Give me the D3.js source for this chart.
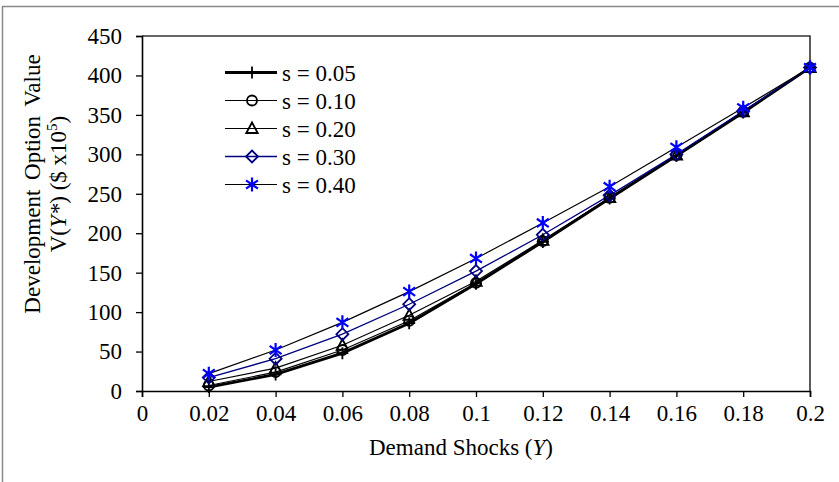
<!DOCTYPE html>
<html>
<head>
<meta charset="utf-8">
<script src="https://d3js.org/d3.v7.min.js"></script>
<style>
  body { margin: 0; background: #fff; }
  svg text { font-family: "Liberation Serif", "Times New Roman", serif; fill: #000; }
</style>
</head>
<body>
<script>
// demand shocks on the x axis
var xValues = [0.02, 0.04, 0.06, 0.08, 0.1, 0.12, 0.14, 0.16, 0.18, 0.2];
var xTicks = [0, 0.02, 0.04, 0.06, 0.08, 0.1, 0.12, 0.14, 0.16, 0.18, 0.2];
var xTickLabels = ["0", "0.02", "0.04", "0.06", "0.08", "0.1", "0.12", "0.14", "0.16", "0.18", "0.2"];
var yTicks = [0, 50, 100, 150, 200, 250, 300, 350, 400, 450];

// option value for each volatility s
var seriesNames = ["s = 0.05", "s = 0.10", "s = 0.20", "s = 0.30", "s = 0.40"];
var s05 = [5, 21, 48, 86, 136, 189, 244, 298, 353, 410];
var s10 = [7, 24, 52, 89, 137, 190, 245, 299, 354, 410];
var s20 = [12, 29, 58, 96, 139, 191, 245, 299, 354, 410];
var s30 = [17, 41, 72, 110, 152, 198, 248, 300, 355, 410];
var s40 = [22, 52, 87, 126, 168, 213, 259, 309, 359, 410];

var W = 839, H = 482;
var plotL = 142, plotR = 810, plotT = 36, plotB = 391;
var fs = "23px";

var svg = d3.select("body").append("svg").attr("width", W).attr("height", H);

// outer frame
svg.append("rect").attr("x", 2.5).attr("y", 6.5).attr("width", 900).attr("height", 600)
  .attr("fill", "none").attr("stroke", "#888").attr("stroke-width", 1.5);

var x = d3.scaleLinear().domain([0, 0.2]).range([plotL, plotR]);
var y = d3.scaleLinear().domain([0, 450]).range([plotB, plotT]);

// plot box top and right
svg.append("path")
  .attr("d", "M" + plotL + "," + plotT + "H" + plotR + "V" + plotB)
  .attr("fill", "none").attr("stroke", "#333").attr("stroke-width", 1.6);

var yAxis = svg.append("g").attr("transform", "translate(" + plotL + ",0)")
  .call(d3.axisLeft(y).tickValues(yTicks).tickSize(6).tickPadding(14));
var xAxis = svg.append("g").attr("transform", "translate(0," + plotB + ")")
  .call(d3.axisBottom(x).tickValues(xTicks).tickSize(6).tickPadding(8)
    .tickFormat(function(d, i) { return xTickLabels[i]; }));

[yAxis, xAxis].forEach(function(a) {
  a.select(".domain").attr("stroke", "#000").attr("stroke-width", 1.6);
  a.selectAll(".tick line").attr("stroke", "#000").attr("stroke-width", 1.3);
  a.selectAll("text").style("font-size", fs);
});

// axis titles
svg.append("text").attr("x", 461).attr("y", 455).attr("text-anchor", "middle")
  .style("font-size", fs)
  .html('Demand Shocks (<tspan font-style="italic">Y</tspan>)');

var yt = svg.append("g").attr("transform", "translate(40,184) rotate(-90)");
yt.append("text").attr("x", 0).attr("y", 0).attr("text-anchor", "middle")
  .style("font-size", fs).style("word-spacing", "4px")
  .text("Development Option Value");
yt.append("text").attr("x", 0).attr("y", 26).attr("text-anchor", "middle")
  .style("font-size", fs)
  .html('V(<tspan font-style="italic">Y*</tspan>) ($ x10<tspan dy="-9" font-size="15px">5</tspan><tspan dy="9">)</tspan>');

// marker drawers
function plus(g, s) { g.append("path").attr("d", "M" + (-s) + ",0H" + s + "M0," + (-s) + "V" + s); }
function circle(g, s) { g.append("circle").attr("r", s); }
function triangle(g, s) { g.append("path").attr("d", "M0," + (-s) + "L" + (s * 0.95) + "," + (s * 0.75) + "H" + (-s * 0.95) + "Z"); }
function diamond(g, s) { g.append("path").attr("d", "M0," + (-s) + "L" + s + ",0L0," + s + "L" + (-s) + ",0Z"); }
function star(g, s) {
  g.append("path").attr("d", "M0," + (-s) + "V" + s + "M" + (-s * 0.85) + "," + (-s * 0.6) + "L" + (s * 0.85) + "," + (s * 0.6) +
    "M" + (-s * 0.85) + "," + (s * 0.6) + "L" + (s * 0.85) + "," + (-s * 0.6));
}

var series = [
  { name: seriesNames[0], values: s05, line: "#000", lw: 2.8, mark: plus, ms: 6, mc: "#000", mw: 1.8 },
  { name: seriesNames[1], values: s10, line: "#000", lw: 1.2, mark: circle, ms: 5, mc: "#000", mw: 1.8 },
  { name: seriesNames[2], values: s20, line: "#000", lw: 1.2, mark: triangle, ms: 6, mc: "#000", mw: 1.8 },
  { name: seriesNames[3], values: s30, line: "#000080", lw: 1.3, mark: diamond, ms: 6, mc: "#000080", mw: 1.8 },
  { name: seriesNames[4], values: s40, line: "#000", lw: 1.2, mark: star, ms: 7, mc: "#0000ff", mw: 2.2 }
];

var line = d3.line().x(function(d, i) { return x(xValues[i]); }).y(function(d) { return y(d); });

series.forEach(function(s) {
  svg.append("path").datum(s.values).attr("d", line)
    .attr("fill", "none").attr("stroke", s.line).attr("stroke-width", s.lw);
});
series.forEach(function(s) {
  s.values.forEach(function(v, i) {
    var g = svg.append("g").attr("transform", "translate(" + x(xValues[i]) + "," + y(v) + ")")
      .attr("fill", "none").attr("stroke", s.mc).attr("stroke-width", s.mw);
    s.mark(g, s.ms);
  });
});

// legend
var lg = svg.append("g").attr("transform", "translate(225,72.5)");
series.forEach(function(s, i) {
  var row = lg.append("g").attr("transform", "translate(0," + (i * 28) + ")");
  row.append("line").attr("x1", 0).attr("x2", 52).attr("y1", 0).attr("y2", 0)
    .attr("stroke", s.line).attr("stroke-width", s.lw);
  var m = row.append("g").attr("transform", "translate(27,0)")
    .attr("fill", "none").attr("stroke", s.mc).attr("stroke-width", s.mw);
  s.mark(m, s.ms);
  row.append("text").attr("x", 57).attr("y", 8).style("font-size", fs).text(s.name);
});
</script>
</body>
</html>
